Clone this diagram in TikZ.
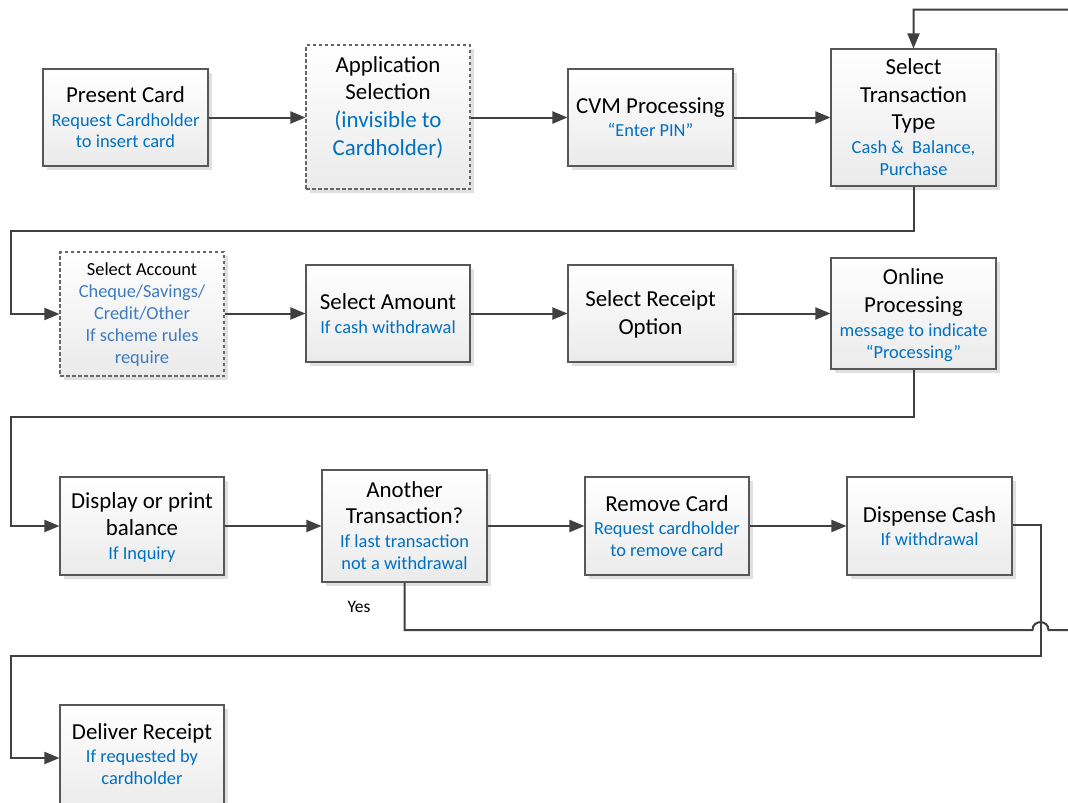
\documentclass[tikz,border=0pt]{standalone}
\usepackage{fontspec}
\setmainfont{Carlito}
\usetikzlibrary{arrows.meta,shadows}
\definecolor{lnc}{HTML}{404040}
\definecolor{bdc}{HTML}{575757}
\definecolor{blu}{HTML}{0070C0}
\definecolor{blu2}{HTML}{3E7BBE}
\tikzset{
  box/.style={draw=bdc, line width=1.1pt, top color=white, bottom color=black!8,
    drop shadow={shadow xshift=4pt, shadow yshift=-4pt, fill=black!12, opacity=1},
    inner sep=0pt},
  dbox/.style={box, dash pattern=on 3.5pt off 2.5pt, draw=black!60},
  ttl/.style={anchor=base, inner sep=0pt, font=\fontsize{22.9}{28}\selectfont, text=black},
  sub/.style={anchor=base, inner sep=0pt, font=\fontsize{18.4}{22}\selectfont, text=blu},
  conn/.style={draw=lnc, line width=2pt},
  arr/.style={conn, -{Triangle[length=15pt,width=12pt]}},
}
\begin{document}
\begin{tikzpicture}[x=1pt,y=-1pt]
\fill[white] (0,0) rectangle (1068,803);
\useasboundingbox (0,0) rectangle (1068,803);
% boxes
\node[box, minimum width=165pt, minimum height=97pt] (pc) at (125.5,117.5) {};
\node[dbox, minimum width=164pt, minimum height=144pt] (as) at (388,117) {};
\node[box, minimum width=165pt, minimum height=97pt] (cvm) at (650.5,117.5) {};
\node[box, minimum width=165pt, minimum height=137pt] (stt) at (913.5,117.5) {};
\node[dbox, minimum width=164pt, minimum height=124pt] (sa) at (142,314) {};
\node[box, minimum width=164pt, minimum height=97pt] (amt) at (388,313.5) {};
\node[box, minimum width=165pt, minimum height=97pt] (rcp) at (650.5,313.5) {};
\node[box, minimum width=165pt, minimum height=111pt] (onl) at (913.5,313.5) {};
\node[box, minimum width=164pt, minimum height=98pt] (dsp) at (142,526) {};
\node[box, minimum width=165pt, minimum height=112pt] (ant) at (404.5,526) {};
\node[box, minimum width=164pt, minimum height=98pt] (rmv) at (667,526) {};
\node[box, minimum width=165pt, minimum height=98pt] (dsc) at (929.5,526) {};
\node[box, minimum width=164pt, minimum height=106pt] (dlv) at (142,758) {};
% texts
\node[ttl] (pc1) at (125.5,102) {Present Card};
\node[sub] (pc2) at (125.5,126) {Request Cardholder};
\node[sub] (pc3) at (125.5,147.5) {to insert card};
\node[ttl] (as1) at (388,72) {Application};
\node[ttl] (as2) at (388,99.5) {Selection};
\node[ttl, text=blu] (as3) at (388,127) {(invisible to};
\node[ttl, text=blu] (as4) at (388,155) {Cardholder)};
\node[ttl] (cvm1) at (650.5,113) {CVM Processing};
\node[sub] (cvm2) at (650.5,136) {“Enter PIN”};
\node[ttl] (stt1) at (913.5,74) {Select};
\node[ttl] (stt2) at (913.5,102) {Transaction};
\node[ttl] (stt3) at (913.5,129.5) {Type};
\node[sub] (stt4) at (913.5,153) {Cash \&~ Balance,};
\node[sub] (stt5) at (913.5,175) {Purchase};
\node[sub, text=black] (sa1) at (142,275) {Select Account};
\node[sub, text=blu2] (sa2) at (142,297) {Cheque/Savings/};
\node[sub, text=blu2] (sa3) at (142,319) {Credit/Other};
\node[sub, text=blu2] (sa4) at (142,341) {If scheme rules};
\node[sub, text=blu2] (sa5) at (142,363) {require};
\node[ttl] (amt1) at (388,309) {Select Amount};
\node[sub] (amt2) at (388,333) {If cash withdrawal};
\node[ttl] (rcp1) at (650.5,306) {Select Receipt};
\node[ttl] (rcp2) at (650.5,334) {Option};
\node[ttl] (onl1) at (913.5,284) {Online};
\node[ttl] (onl2) at (913.5,312) {Processing};
\node[sub] (onl3) at (913.5,336) {message to indicate};
\node[sub] (onl4) at (913.5,358) {“Processing”};
\node[ttl] (dsp1) at (142,508) {Display or print};
\node[ttl] (dsp2) at (142,535.5) {balance};
\node[sub] (dsp3) at (142,559) {If Inquiry};
\node[ttl] (ant1) at (404.5,497) {Another};
\node[ttl] (ant2) at (404.5,523.5) {Transaction?};
\node[sub] (ant3) at (404.5,547.5) {If last transaction};
\node[sub] (ant4) at (404.5,569.5) {not a withdrawal};
\node[ttl] (rmv1) at (667,511) {Remove Card};
\node[sub] (rmv2) at (667,534) {Request cardholder};
\node[sub] (rmv3) at (667,556) {to remove card};
\node[ttl] (dsc1) at (929.5,522) {Dispense Cash};
\node[sub] (dsc2) at (929.5,545) {If withdrawal};
\node[ttl] (dlv1) at (142,739) {Deliver Receipt};
\node[sub] (dlv2) at (142,762.5) {If requested by};
\node[sub] (dlv3) at (142,784) {cardholder};
\node[sub, text=black, font=\fontsize{17.5}{20}\selectfont] (yes) at (359,612) {Yes};
% connectors
\draw[arr] (pc.east) -- (pc.east -| as.west);
\draw[arr] (as.east |- cvm.west) -- (cvm.west);
\draw[arr] (cvm.east) -- (stt.west);
\draw[arr] (stt.south) -- (913.5,230.5) -- (10.5,230.5) |- (sa.west);
\draw[arr] (sa.east |- amt.west) -- (amt.west);
\draw[arr] (amt.east) -- (rcp.west);
\draw[arr] (rcp.east) -- (onl.west);
\draw[arr] (onl.south) -- (913.5,417) -- (10.5,417) |- (dsp.west);
\draw[arr] (dsp.east) -- (ant.west);
\draw[arr] (ant.east) -- (rmv.west);
\draw[arr] (rmv.east) -- (dsc.west);
\draw[arr] (dsc.east |- 0,525) -- (1040.5,525) -- (1040.5,656) -- (10.5,656) |- (dlv.west);
\draw[arr] (ant.south) -- (404.5,630) -- (1032.5,630)
  .. controls (1032.5,619.5) and (1048.5,619.5) .. (1048.5,630)
  -- (1080,630) -- (1080,9.5) -| (stt.north);
\end{tikzpicture}
\end{document}
